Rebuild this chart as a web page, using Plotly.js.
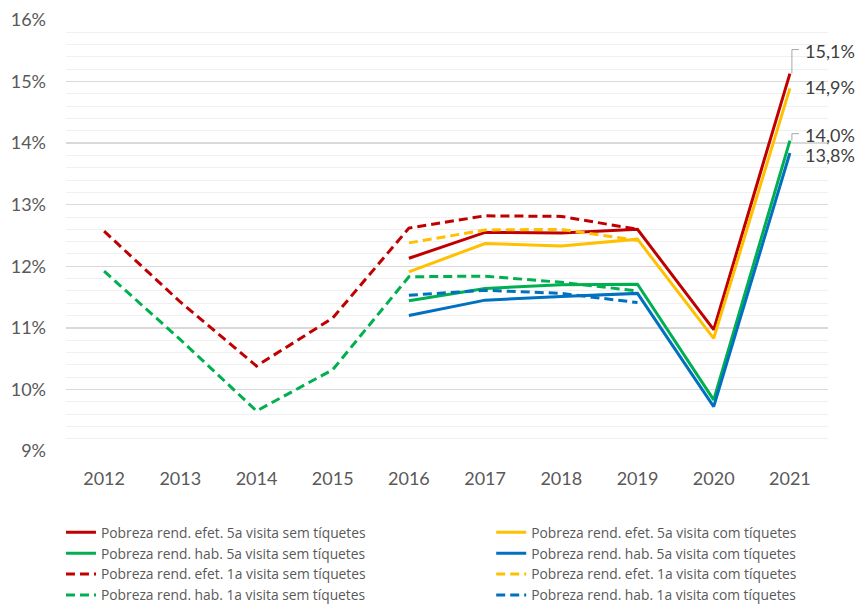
<!DOCTYPE html>
<html><head><meta charset="utf-8">
<script src="https://cdn.plot.ly/plotly-3.0.1.min.js"></script>
<style>html,body{margin:0;padding:0;background:#fff}#chart{width:858px;height:604px}#err{position:absolute;left:300px;top:380px;font:10px monospace;color:#f00}</style>
</head><body><div id="chart"></div><div id="err"></div>
<script>
window.onerror = function(m){ document.getElementById('err').textContent += ' ' + m; };

const years = ['2012','2013','2014','2015','2016','2017','2018','2019','2020','2021'];

const efet5semName = 'Pobreza rend. efet. 5a visita sem tíquetes';
const efet5comName = 'Pobreza rend. efet. 5a visita com tíquetes';
const hab5semName  = 'Pobreza rend. hab. 5a visita sem tíquetes';
const hab5comName  = 'Pobreza rend. hab. 5a visita com tíquetes';
const efet1semName = 'Pobreza rend. efet. 1a visita sem tíquetes';
const efet1comName = 'Pobreza rend. efet. 1a visita com tíquetes';
const hab1semName  = 'Pobreza rend. hab. 1a visita sem tíquetes';
const hab1comName  = 'Pobreza rend. hab. 1a visita com tíquetes';

const efet5sem = [null,null,null,null,12.13,12.55,12.54,12.60,10.97,15.13];
const efet5com = [null,null,null,null,11.91,12.37,12.33,12.44,10.83,14.89];
const hab5sem  = [null,null,null,null,11.44,11.64,11.70,11.71,9.83,14.04];
const hab5com  = [null,null,null,null,11.20,11.45,11.51,11.56,9.72,13.84];
const efet1sem = [12.57,11.42,10.38,11.16,12.62,12.82,12.81,12.60,null,null];
const efet1com = [null,null,null,null,12.38,12.59,12.60,12.42,null,null];
const hab1sem  = [11.92,10.81,9.65,10.32,11.83,11.84,11.74,11.60,null,null];
const hab1com  = [null,null,null,null,11.53,11.61,11.56,11.41,null,null];

const yTickVals = [9,10,11,12,13,14,15,16];
const yTickText = ['9%','10%','11%','12%','13%','14%','15%','16%'];

const red='#C00000', yellow='#FFC000', green='#00B050', blue='#0070C0';
const DASH='9px,5px';
function tr(name, y, color, dash, legend){
  return {type:'scatter', mode:'lines', x:years, y:y, name:name, legend:legend,
    line:{color:color, width:3, dash:dash||'solid'}, connectgaps:false, hoverinfo:'skip'};
}
const data = [
  tr(efet5semName, efet5sem, red, null, 'legend'),
  tr(efet5comName, efet5com, yellow, null, 'legend2'),
  tr(hab5semName, hab5sem, green, null, 'legend'),
  tr(hab5comName, hab5com, blue, null, 'legend2'),
  tr(efet1semName, efet1sem, red, DASH, 'legend'),
  tr(efet1comName, efet1com, yellow, DASH, 'legend2'),
  tr(hab1semName, hab1sem, green, DASH, 'legend'),
  tr(hab1comName, hab1com, blue, DASH, 'legend2')
];

const fmt = v => v.toFixed(1).replace('.', ',') + '%';
const last = years.length - 1;
const labelDefs = [
  {v: efet5sem[last], yshift: 23, leader: true},
  {v: efet5com[last], yshift: 1, leader: false},
  {v: hab5sem[last], yshift: 6, leader: true},
  {v: hab5com[last], yshift: -2, leader: false}
];
const annotations = labelDefs.map(d => ({
  x: last, y: d.v, xref:'x', yref:'y', text: fmt(d.v), showarrow:false,
  xanchor:'left', yanchor:'middle', xshift: 13, yshift: d.yshift,
  font:{family:'Lato, sans-serif', size:18, color:'#404040'}
}));
const shapes = [];
labelDefs.filter(d => d.leader).forEach(d => {
  shapes.push({type:'line', xref:'x', yref:'y', xsizemode:'pixel', ysizemode:'pixel',
    xanchor: last, yanchor: d.v, x0:2, x1:2, y0:0, y1:d.yshift+1,
    line:{color:'#A6A6A6', width:1}});
  shapes.push({type:'line', xref:'x', yref:'y', xsizemode:'pixel', ysizemode:'pixel',
    xanchor: last, yanchor: d.v, x0:2, x1:9, y0:d.yshift+1, y1:d.yshift+1,
    line:{color:'#A6A6A6', width:1}});
});

const legFont = {family:'"Open Sans", sans-serif', size:13.8, color:'#595959'};
const layout = {
  width:858, height:604,
  margin:{l:66, r:30, t:20, b:153, autoexpand:false},
  paper_bgcolor:'#fff', plot_bgcolor:'#fff',
  font:{family:'Lato, sans-serif', color:'#595959'},
  showlegend:true,
  legend:{x:-0.0066, y:-0.1525, xanchor:'left', yanchor:'top', font:legFont, tracegroupgap:0, bgcolor:'rgba(0,0,0,0)'},
  legend2:{x:0.558, y:-0.1525, xanchor:'left', yanchor:'top', font:legFont, tracegroupgap:0, bgcolor:'rgba(0,0,0,0)'},
  xaxis:{type:'category', range:[-0.5, 9.5], showgrid:false, zeroline:false, showline:false,
    ticks:'', tickfont:{size:18, color:'#595959'}, ticklabelstandoff:15, fixedrange:true},
  yaxis:{range:[9,16], tickvals:yTickVals, ticktext:yTickText,
    showgrid:true, gridcolor:'#D9D9D9', gridwidth:1.3, zeroline:false, showline:false,
    ticks:'', tickfont:{size:18, color:'#595959'}, ticklabelstandoff:19,
    minor:{dtick:0.2, showgrid:true, gridcolor:'#F0F0F0', gridwidth:1}, fixedrange:true},
  hovermode:false
};
Plotly.newPlot('chart', data, layout, {staticPlot:true, displayModeBar:false})
  .then(() => Plotly.relayout('chart', {annotations: annotations, shapes: shapes}))
  .catch(e => { document.getElementById('err').textContent += ' C:' + e.message; });
</script></body></html>
